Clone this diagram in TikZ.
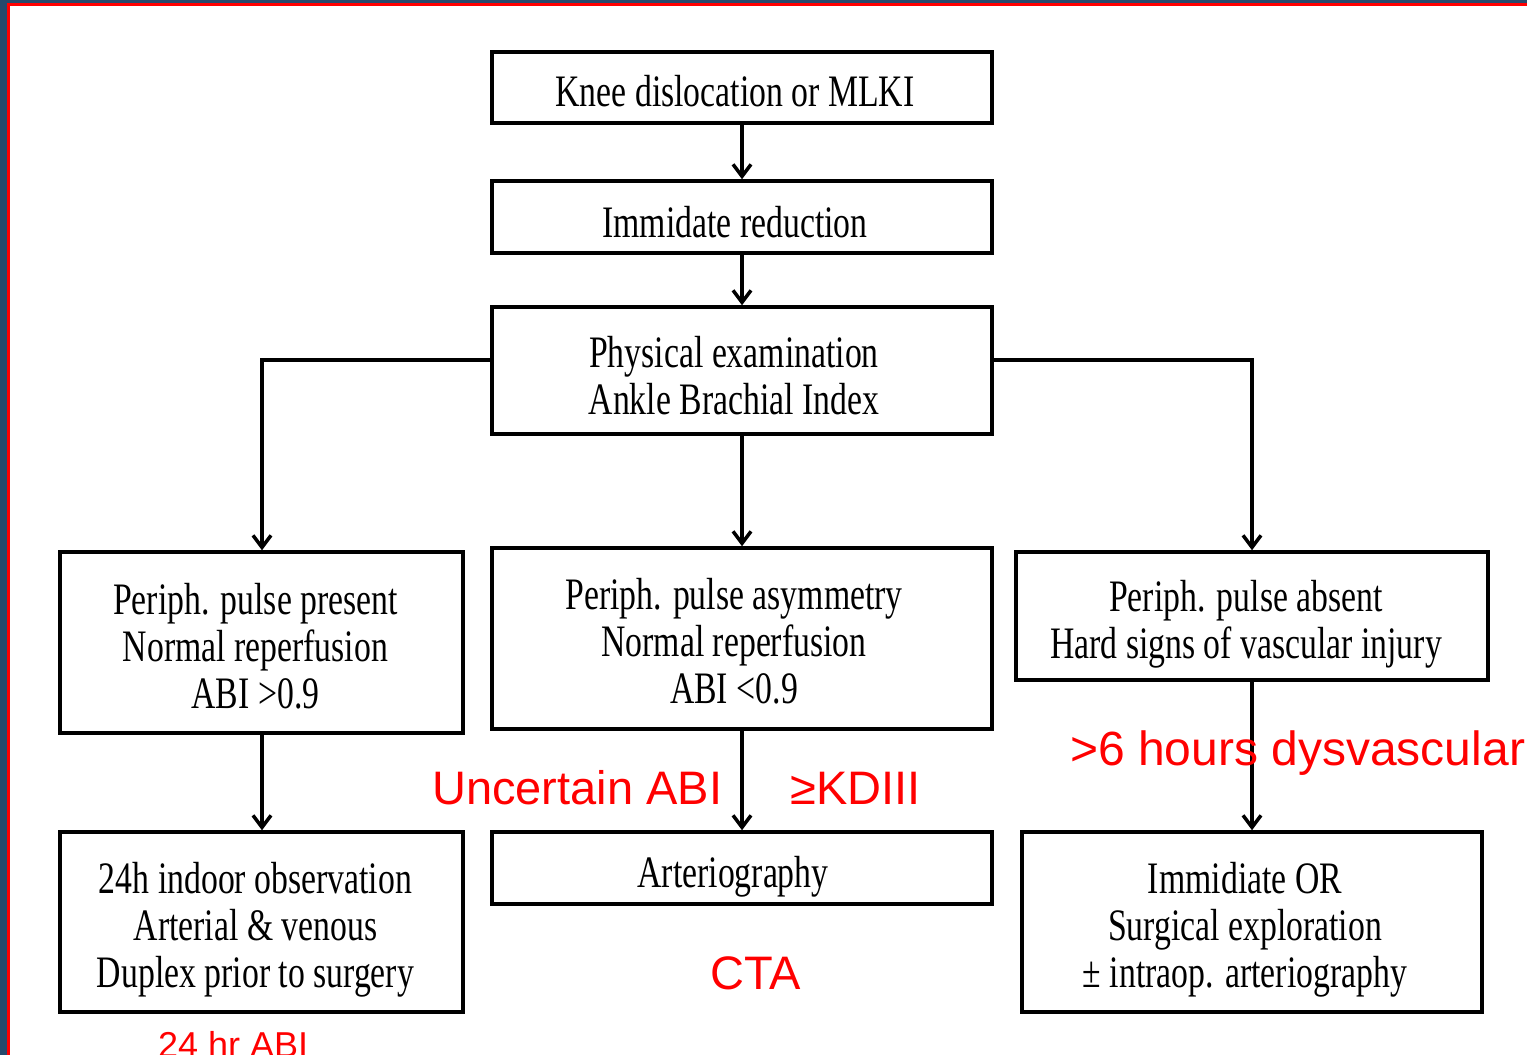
\documentclass[tikz,border=0pt]{standalone}
\usepackage{fontspec}
\setmainfont{Liberation Serif}
\newfontfamily\condserif[FakeStretch=0.75]{Liberation Serif}
\newfontfamily\redsans{Liberation Sans}
\usetikzlibrary{arrows.meta}
\definecolor{slideblue}{HTML}{274A6C}
\definecolor{slidered}{HTML}{FF0000}
\begin{document}
\begin{tikzpicture}[x=1pt,y=-1pt,
  box/.style={draw=black, line width=3.5pt, inner sep=0pt},
  boxtext/.style={inner sep=0pt, align=center,
    font=\condserif\fontsize{45}{47}\selectfont},
  flow/.style={line width=3.5pt, -{Straight Barb[length=12pt,width=18pt]}},
  redlabel/.style={text=slidered, inner sep=0pt, anchor=base west,
    font=\redsans\fontsize{47}{56}\selectfont}]
\useasboundingbox (0,0) rectangle (1527,1055);
\clip (0,0) rectangle (1527,1055);
% slide frame
\fill[slideblue] (0,0) rectangle (1527,1055);
\fill[slidered] (7,3) rectangle (1527,1055);
\fill[white] (10,5.5) rectangle (1527,1055);
% boxes
\node[box, minimum width=500pt, minimum height=71pt] (b1) at (742,87.5) {};
\node[box, minimum width=500pt, minimum height=72pt] (b2) at (742,217) {};
\node[box, minimum width=500pt, minimum height=127pt] (b3) at (742,370.5) {};
\node[box, minimum width=403pt, minimum height=181pt] (b4) at (261.5,642.5) {};
\node[box, minimum width=500pt, minimum height=181pt] (b5) at (742,638.5) {};
\node[box, minimum width=472pt, minimum height=128pt] (b6) at (1252,616) {};
\node[box, minimum width=403pt, minimum height=180pt] (b7) at (261.5,922) {};
\node[box, minimum width=500pt, minimum height=72pt] (b8) at (742,868) {};
\node[box, minimum width=460pt, minimum height=180pt] (b9) at (1252,922) {};
% box texts
\node[boxtext, xshift=-7pt, yshift=-4pt] (t1) at (b1.center) {Knee dislocation or MLKI};
\node[boxtext, xshift=-7pt, yshift=-5pt] (t2) at (b2.center) {Immidate reduction};
\node[boxtext, xshift=-8pt, yshift=-5pt] (t3) at (b3.center) {Physical examination\\Ankle Brachial Index};
\node[boxtext, xshift=-6pt, yshift=-4pt] (t4) at (b4.center) {Periph. pulse present\\Normal reperfusion\\ABI >0.9};
\node[boxtext, xshift=-8pt, yshift=-3pt] (t5) at (b5.center) {Periph. pulse asymmetry\\Normal reperfusion\\ABI <0.9};
\node[boxtext, xshift=-6pt, yshift=-8pt] (t6) at (b6.center) {Periph. pulse absent\\Hard signs of vascular injury};
\node[boxtext, xshift=-6pt, yshift=-8pt] (t7) at (b7.center) {24h indoor observation\\Arterial \& venous\\Duplex prior to surgery};
\node[boxtext, xshift=-9pt, yshift=-9pt] (t8) at (b8.center) {Arteriography};
\node[boxtext, xshift=-7pt, yshift=-8pt] (t9) at (b9.center) {Immidiate OR\\Surgical exploration\\± intraop. arteriography};
% connectors
\coordinate (lt) at (262,360);
\coordinate (rt) at (1252,360);
\draw[flow] (b1.south) -- (b2.north);
\draw[flow] (b2.south) -- (b3.north);
\draw[flow] (b3.south) -- (b5.north);
\draw[flow] (b3.west |- lt) -- (lt) -- (lt |- b4.north);
\draw[flow] (b3.east |- rt) -- (rt) -- (rt |- b6.north);
\draw[flow] (b4.south -| lt) -- (lt |- b7.north);
\draw[flow] (b5.south) -- (b8.north);
\draw[flow] (b6.south -| rt) -- (rt |- b9.north);
% red annotations
\node[redlabel] (uabi) at (432,804) {Uncertain ABI};
\node[redlabel] (kd) at (790,804) {≥KDIII};
\node[redlabel, font=\redsans\fontsize{48}{56}\selectfont] (six) at (1070,765) {>6 hours dysvascular};
\node[redlabel] (cta) at (710,989) {CTA};
\node[redlabel, font=\redsans\fontsize{36}{43}\selectfont] (abi24) at (158,1057) {24 hr ABI};
\end{tikzpicture}
\end{document}
